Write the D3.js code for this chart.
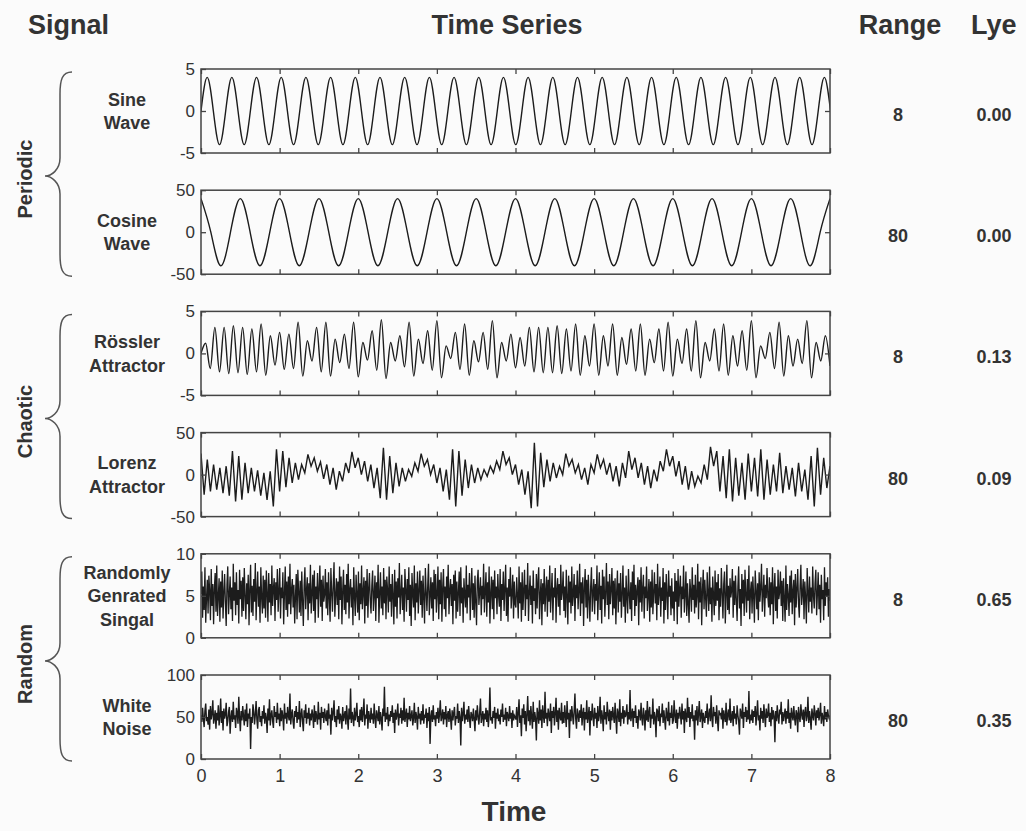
<!DOCTYPE html>
<html>
<head>
<meta charset="utf-8">
<script src="https://cdn.jsdelivr.net/npm/d3@7"></script>
<style>
body { margin: 0; background: #fbfbfb; }
</style>
</head>
<body>
<div id="viz"></div>
<script>
var svg_width = 1026;
var svg_height = 831;
var font = '"Liberation Sans", Arial, Helvetica, sans-serif';

var groups = ["Periodic", "Chaotic", "Random"];
var signal_names = [["Sine", "Wave"], ["Cosine", "Wave"], ["Rössler", "Attractor"],
  ["Lorenz", "Attractor"], ["Randomly", "Genrated", "Singal"], ["White", "Noise"]];
var y_domains = [[-5, 5], [-50, 50], [-5, 5], [-50, 50], [0, 10], [0, 100]];
var y_ticks = [[-5, 0, 5], [-50, 0, 50], [-5, 0, 5], [-50, 0, 50], [0, 5, 10], [0, 50, 100]];
var x_ticks = [0, 1, 2, 3, 4, 5, 6, 7, 8];
var range_values = ["8", "80", "8", "80", "8", "80"];
var lye_values = ["0.00", "0.00", "0.13", "0.09", "0.65", "0.35"];

// sine: samples every quarter period (peaks at +-4)
var sine_step = 0.0785;
var sine_values = [0,4,0,-4,0,4,0,-4,0,4,0,-4,0,4,0,-4,0,4,0,-4,0,4,0,-4,0,4,0,-4,0,4,0,-4,
  0,4,0,-4,0,4,0,-4,0,4,0,-4,0,4,0,-4,0,4,0,-4,0,4,0,-4,0,4,0,-4,0,4,0,-4,0,4,0,-4,0,4,0,-4,
  0,4,0,-4,0,4,0,-4,0,4,0,-4,0,4,0,-4,0,4,0,-4,0,4,0,-4,0,4,0,-4,0,4,0];

// cosine: samples every quarter period (peaks at +-40)
var cosine_step = 0.125;
var cosine_values = [40,0,-40,0,40,0,-40,0,40,0,-40,0,40,0,-40,0,40,0,-40,0,40,0,-40,0,
  40,0,-40,0,40,0,-40,0,40,0,-40,0,40,0,-40,0,40,0,-40,0,40,0,-40,0,40,0,-40,0,40,0,-40,0,
  40,0,-40,0,40,0,-40,0,40];

// rossler: peaks and troughs, in order, spread over 0..8
var rossler_values = [0,
  1.2,-1.8,3.1,-2.2,3.1,-2.4,3.3,-2.3,3.1,-2.5,2.9,-2.2,3.5,-2.6,2.1,-1.4,2.5,-1.9,2.3,-1.8,
  3.7,-2.7,1.5,-0.9,3.1,-2.2,3.7,-2.7,1.7,-1.1,2.3,-1.8,3.7,-2.8,1.3,-0.8,2.7,-2.0,4.0,-3.0,
  1.3,-0.9,2.1,-1.6,3.7,-2.7,1.7,-1.2,2.7,-2.0,3.9,-2.9,0.9,-0.6,2.5,-1.9,3.5,-2.6,1.5,-1.0,
  2.5,-1.9,3.9,-2.9,1.3,-0.9,2.3,-1.7,1.9,-1.5,3.1,-2.2,3.1,-2.3,3.1,-2.3,3.3,-2.4,2.9,-2.1,
  3.5,-2.6,2.1,-1.5,3.5,-2.6,2.1,-1.5,3.5,-2.6,1.9,-1.3,2.9,-2.1,3.5,-2.6,1.7,-1.1,2.9,-2.1,
  3.7,-2.7,1.7,-1.2,2.9,-2.1,3.9,-2.9,1.3,-0.9,2.9,-2.1,3.5,-2.6,2.1,-1.5,2.7,-2.0,3.9,-2.9,
  0.9,-0.6,2.5,-1.8,3.7,-2.7,2.1,-1.5,1.7,-1.2,3.9,-2.9,1.3,-0.9,2.1,-1.5];

// lorenz: highs and lows of the fast oscillation, in order, spread over 0..8
var lorenz_values = [
  25,-24,18,-20,12,-18,8,-22,10,-25,28,-32,22,-30,14,-22,8,-20,5,-25,
  2,-30,4,-38,30,-20,28,-15,20,-10,14,-6,12,2,24,10,20,4,15,-5,
  12,-12,8,-18,4,-8,14,2,27,8,20,0,16,-8,12,-16,8,-28,32,-30,
  22,-22,14,-14,8,-8,6,-2,14,4,25,10,18,0,12,-10,8,-20,6,-30,
  30,-38,28,-25,18,-16,12,-10,8,-6,6,-2,10,2,16,6,28,12,20,0,
  12,-12,6,-24,4,-40,38,-38,26,-15,18,-8,14,-4,10,0,25,10,18,2,
  12,-6,8,-12,12,2,24,8,18,0,14,-8,10,-14,14,-4,28,6,20,-4,
  14,-12,10,-16,6,-8,16,4,30,10,22,-2,16,-12,10,-18,4,-14,-2,-10,
  12,-6,33,10,28,-20,22,-28,30,-32,20,-25,14,-30,25,-20,20,-26,30,-30,
  18,-24,12,-20,26,-22,10,-18,8,-26,14,-20,6,-30,22,-38,32,-24,20,-16,
  10];

var random_values = [
  5.2,7.9,2.4,6.1,3.3,8.4,1.8,4.7,6.9,2.9,7.4,5.6,2.1,8.2,3.8,6.4,1.6,5.9,7.7,3.1,
  8.6,2.6,4.9,7.1,1.9,6.7,3.6,8.0,2.3,5.4,7.6,4.1,1.4,6.3,8.5,2.8,5.1,7.3,3.4,6.0,
  2.0,8.8,4.4,6.6,2.7,7.8,3.9,5.7,1.7,8.1,4.6,6.8,2.5,7.2,3.2,8.3,5.0,2.2,6.5,4.0,
  7.5,1.5,5.8,8.7,3.0,6.2,2.6,7.0,4.3,8.9,2.1,5.5,7.9,3.7,6.1,1.8,8.4,4.8,2.9,7.4,
  3.5,6.9,2.4,8.0,5.3,1.9,7.7,4.2,6.4,2.7,8.6,3.8,5.9,7.1,2.0,6.6,4.5,8.2,3.1,5.6,
  8.3,2.3,6.0,4.7,7.8,1.6,5.2,8.5,3.3,6.7,2.5,7.3,4.0,8.8,2.8,5.8,7.0,3.6,6.3,1.7,
  4.9,7.6,2.2,8.1,5.5,3.0,6.8,2.6,7.9,4.4,1.4,6.2,8.4,3.4,5.7,7.2,2.1,6.5,4.1,8.7,
  2.9,5.3,7.5,3.2,8.0,1.8,6.1,4.6,7.7,2.4,5.9,8.6,3.7,6.9,2.0,7.4,4.3,5.1,8.2,3.5,
  6.6,2.7,7.8,4.8,1.9,8.3,5.4,3.1,6.4,9.0,2.5,5.0,7.1,3.9,6.7,2.2,8.5,4.5,7.3,1.6,
  5.6,8.1,3.3,6.3,2.8,7.6,4.2,8.8,2.3,5.8,7.0,3.6,6.0,1.5,8.4,4.9,2.6,7.5,5.2,3.0,
  7.9,2.1,6.5,4.0,8.6,3.4,5.5,7.2,1.7,6.8,3.8,8.2,2.4,5.9,7.7,4.4,2.9,6.2,8.0,3.2,
  5.1,7.4,2.0,6.6,4.7,8.7,1.8,5.3,7.8,3.5,6.1,2.7,8.3,4.1,6.9,2.2,7.3,5.7,3.0,8.5,
  4.3,6.4,2.5,7.6,5.0,1.6,8.1,3.7,6.7,2.3,7.1,4.8,8.9,2.8,5.4,7.5,3.3,6.0,1.9,8.2,
  5.8,3.1,7.0,4.5,8.4,2.6,6.3,1.4,7.7,5.2,3.6,8.6,2.1,6.5,4.2,7.9,2.9,5.6,8.0,3.9,
  6.8,2.4,7.4,4.9,1.7,8.3,5.5,3.2,6.2,8.8,2.7,5.0,7.2,3.5,6.6,2.0,8.1,4.6,7.6,3.0,
  5.3,8.5,2.2,6.9,4.0,7.8,1.9,5.9,8.2,3.4,6.1,2.5,7.3,4.7,8.7,2.8,5.7,7.0,3.8,6.4,
  1.6,7.5,4.4,8.0,2.3,6.7,3.1,5.4,7.9,2.6,8.4,4.1,6.0,1.8,7.1,5.1,3.6,8.6,2.9,6.3,
  4.8,7.7,2.1,5.8,8.3,3.3,6.5,2.4,7.4,4.3,1.5,6.8,8.1,3.9,5.5,7.2,2.7,6.2,4.6,8.8,
  3.0,5.6,7.8,2.5,6.6,4.2,8.5,1.7,5.2,7.3,3.4,6.9,2.2,8.0,4.7,6.1,2.8,7.6,5.0,3.7,
  8.2,2.0,6.4,4.5,7.9,3.2,5.9,8.7,2.6,6.0,1.9,7.0,4.9,8.4,3.5,5.3,7.5,2.3,6.7,4.0,
  3.6,7.2,5.0,2.3,8.5,4.1,6.6,1.9,7.8,3.3,5.7,8.1,2.6,6.3,4.6,8.9,2.0,5.3,7.4,3.9,
  6.2,1.7,8.0,4.4,5.9,2.8,7.6,3.5,6.8,8.4,2.2,5.1,7.0,1.5,6.5,4.0,8.2,3.1,5.6,7.3,
  2.5,6.9,4.3,8.6,3.0,5.4,7.7,2.1,6.0,4.8,8.3,1.8,5.8,7.1,3.7,6.4,2.7,8.7,4.5,5.5,
  7.9,3.2,6.1,2.4,8.1,5.0,1.6,7.4,4.2,6.7,2.9,8.5,3.8,5.2,7.6,2.0,6.3,4.7,8.0,3.4,
  5.7,8.8,2.6,6.6,4.1,7.2,1.4,5.9,8.2,3.6,6.9,2.3,7.5,4.9,1.9,6.1,8.4,3.1,5.4,7.0,
  2.8,6.4,4.4,8.6,2.1,5.6,7.8,3.3,6.2,1.7,8.1,4.6,7.3,2.5,5.3,8.9,3.9,6.7,2.2,7.6,
  4.0,5.8,8.3,2.7,6.8,3.5,7.1,1.6,5.5,8.0,3.0,6.5,4.3,7.7,2.4,5.1,8.6,3.7,6.0,1.8,
  7.4,4.8,2.9,8.2,5.2,3.4,6.6,2.0,7.9,4.5,8.7,2.6,6.3,3.8,5.7,7.2,1.5,6.9,4.2,8.4,
  3.1,5.9,7.5,2.3,6.1,4.7,8.5,3.2,5.0,7.0,1.9,6.7,3.6,8.1,2.8,5.4,7.8,4.1,6.4,2.1,
  8.8,3.9,5.3,7.3,2.5,6.0,4.4,8.3,1.7,6.6,3.3,7.6,5.1,2.2,8.0,4.9,6.2,2.7,7.1,3.5,
  5.5,2.0,7.7,4.3,6.8,1.6,8.2,3.7,5.8,7.4,2.4,6.1,4.6,8.6,3.0,5.2,7.9,2.6,6.5,4.0,
  1.8,7.0,5.6,3.1,8.4,4.5,6.3,2.9,7.5,3.6,5.0,8.8,2.2,6.7,4.2,7.2,1.5,5.7,8.1,3.4,
  6.9,4.7,2.5,7.8,5.3,3.2,8.5,4.0,6.0,1.9,7.3,5.1,2.7,8.0,3.8,6.6,4.4,7.6,2.1,5.9,
  3.7,8.3,5.4,2.3,6.4,7.9,1.7,5.0,8.7,3.3,6.2,2.8,7.1,4.8,5.6,8.2,2.4,6.8,3.9,7.4,
  4.6,2.0,6.1,8.5,3.5,5.8,1.4,7.6,4.1,6.9,2.6,8.1,5.2,3.0,7.0,4.4,8.6,2.2,5.5,6.7,
  2.9,7.3,4.9,1.8,8.0,5.7,3.4,6.5,2.1,7.8,4.3,6.0,8.8,3.1,5.3,7.5,2.5,6.3,4.7,8.3,
  5.0,3.6,7.2,2.7,6.6,4.0,8.4,1.6,5.9,7.7,3.2,6.1,2.3,8.1,4.6,5.4,7.9,3.8,6.8,2.0,
  7.1,4.5,1.9,8.6,3.3,6.4,5.1,2.6,7.4,4.2,8.0,2.8,5.6,6.9,1.5,7.6,3.6,5.8,8.2,4.1,
  2.4,6.2,8.7,3.9,5.3,7.0,2.2,6.7,4.8,1.7,8.3,5.5,3.0,7.3,4.3,6.0,2.9,8.5,5.0,3.5,
  6.5,8.1,2.7,5.2,7.8,3.4,6.3,1.8,7.5,4.6,5.7,2.1,8.4,3.8,6.6,4.9,7.2,2.5,5.8,4.4];

var noise_values = [
  52,44,61,48,38,57,66,45,50,41,59,35,63,47,54,70,42,49,58,36,
  55,46,64,40,51,72,43,57,34,60,48,53,67,39,45,56,62,30,50,58,
  44,68,47,52,37,61,55,42,74,49,33,57,46,63,51,40,59,45,66,38,
  54,48,60,12,50,43,65,56,41,53,69,47,36,58,62,44,51,39,57,48,
  64,42,55,49,31,60,46,71,40,52,58,45,37,63,50,56,43,67,47,54,
  39,61,45,58,50,34,66,48,55,42,62,51,46,78,41,53,59,44,36,57,
  50,63,43,56,47,69,38,52,60,45,33,58,49,65,42,55,48,61,40,54,
  46,59,52,37,64,44,57,50,41,68,47,55,35,62,49,56,43,60,51,45,
  58,40,66,48,53,29,61,46,55,70,44,51,38,59,47,63,42,54,50,36,
  62,45,52,57,41,64,49,35,60,47,84,43,56,50,39,61,46,53,67,44,
  51,38,59,46,62,44,55,72,40,53,48,65,36,57,50,43,61,47,54,42,
  66,49,37,58,52,45,63,41,56,48,34,60,51,86,44,55,47,62,39,53,
  45,57,50,64,43,55,31,59,47,52,66,40,54,49,61,42,58,46,73,44,
  52,60,38,55,47,63,45,51,58,40,49,67,43,56,50,35,62,48,54,41,
  57,46,65,42,53,49,60,37,55,45,62,18,51,58,44,64,47,52,39,56,
  48,61,43,54,70,45,50,59,41,56,47,63,38,52,57,44,60,49,35,58,
  46,55,62,40,51,48,66,43,57,50,16,61,45,54,68,42,53,47,59,44,
  63,49,37,56,52,45,60,48,33,58,46,64,51,41,55,72,43,50,57,39,
  54,47,61,44,58,38,52,85,46,50,42,57,49,62,36,55,48,60,45,53,
  41,59,50,66,44,53,47,61,39,56,51,45,63,48,55,37,58,46,52,50,
  47,62,38,55,71,43,52,27,60,49,65,41,57,33,53,75,45,58,40,63,
  50,36,68,44,56,48,22,61,53,42,70,46,59,37,64,51,43,80,48,55,
  39,60,52,45,66,31,57,49,62,40,54,73,44,58,35,61,50,46,67,42,
  56,43,64,51,38,69,47,55,25,59,45,63,52,41,57,78,48,36,60,53,
  44,58,49,65,40,54,61,34,56,47,70,43,51,62,28,57,46,66,50,39,
  61,48,55,37,63,45,52,74,42,58,50,33,64,47,56,41,68,53,45,59,
  35,57,46,62,51,43,67,49,30,60,54,44,71,39,55,48,63,42,58,50,
  53,65,41,56,47,82,45,52,60,38,57,49,64,43,51,36,59,55,46,67,
  48,40,61,52,34,58,46,69,44,55,62,37,53,48,72,41,56,50,26,60,
  57,45,63,39,54,50,66,43,58,47,35,61,52,45,68,40,55,49,64,42,
  46,70,51,43,59,36,55,48,62,53,41,66,47,57,31,60,50,44,73,49,
  62,38,56,48,65,45,52,23,58,46,63,40,54,69,44,51,59,37,55,47,
  43,57,49,66,41,53,60,45,76,48,38,62,51,56,42,64,47,33,58,52,
  55,47,61,36,58,50,44,67,40,53,59,46,72,43,49,57,39,63,48,54,
  41,64,52,45,29,60,55,48,66,37,56,50,62,44,58,47,81,42,53,46,
  59,43,57,50,63,40,54,70,46,52,34,61,48,57,43,65,51,38,60,49,
  52,66,44,55,39,62,47,58,51,20,57,45,64,50,42,59,53,68,41,56,
  45,53,60,42,57,48,71,43,55,36,61,52,46,63,49,40,58,54,32,62,
  50,44,65,53,47,59,38,56,62,45,51,74,43,57,48,35,60,52,46,64,
  54,40,58,49,61,46,53,67,42,55,50,39,63,47,56,44,59,51,48,52];

var series = [
  {values: sine_values, step: sine_step, curve: d3.curveNatural, width: 1.4},
  {values: cosine_values, step: cosine_step, curve: d3.curveNatural, width: 1.4},
  {values: rossler_values, curve: d3.curveMonotoneX, width: 1.4},
  {values: lorenz_values, curve: d3.curveLinear, width: 1.4},
  {values: random_values, curve: d3.curveLinear, width: 1.3},
  {values: noise_values, curve: d3.curveLinear, width: 1.4}
];

var plot_left = 201, plot_right = 830;
var panel_top = 69, panel_step = 121.2, panel_height = 84;

var svg = d3.select('#viz')
  .append('svg')
  .attr('width', svg_width)
  .attr('height', svg_height)
  .style('background', '#fbfbfb')
  .style('font-family', font);

var x = d3.scaleLinear().domain([0, 8]).range([plot_left, plot_right]);
var plain = function(d) { return String(d); };   // hyphen minus like the original

function styleAxis(g, size) {
  g.select('.domain').remove();
  g.selectAll('line').attr('stroke', '#444').attr('stroke-width', 1.3);
  g.selectAll('text').attr('fill', '#333').attr('font-size', size).attr('font-family', font);
}

series.forEach(function(s, i) {
  var top = panel_top + i * panel_step;
  var bottom = top + panel_height;
  var y = d3.scaleLinear().domain(y_domains[i]).range([bottom, top]);
  var step = s.step || 8 / (s.values.length - 1);

  svg.append('clipPath').attr('id', 'clip' + i)
    .append('rect')
    .attr('x', plot_left).attr('y', top)
    .attr('width', plot_right - plot_left).attr('height', panel_height);

  var line = d3.line()
    .x(function(d, j) { return x(j * step); })
    .y(function(d) { return y(d); })
    .curve(s.curve);

  svg.append('path')
    .datum(s.values)
    .attr('d', line)
    .attr('clip-path', 'url(#clip' + i + ')')
    .attr('fill', 'none')
    .attr('stroke', '#1c1c1c')
    .attr('stroke-width', s.width);

  // frame
  svg.append('rect')
    .attr('x', plot_left).attr('y', top)
    .attr('width', plot_right - plot_left).attr('height', panel_height)
    .attr('fill', 'none').attr('stroke', '#444').attr('stroke-width', 1.5);

  svg.append('g')
    .attr('transform', 'translate(' + plot_left + ',0)')
    .call(d3.axisLeft(y).tickValues(y_ticks[i]).tickFormat(plain).tickSize(-5).tickPadding(6))
    .call(styleAxis, 17);

  svg.append('g')
    .attr('transform', 'translate(' + plot_right + ',0)')
    .call(d3.axisRight(y).tickValues([y_ticks[i][1]]).tickSize(-5).tickFormat(''))
    .call(styleAxis, 17);

  svg.append('g')
    .attr('transform', 'translate(0,' + top + ')')
    .call(d3.axisTop(x).tickValues(x_ticks).tickSize(-5).tickFormat(''))
    .call(styleAxis, 17);

  var xb = d3.axisBottom(x).tickValues(x_ticks).tickFormat(plain).tickSize(-5).tickPadding(10);
  if (i < series.length - 1) xb.tickFormat('');
  svg.append('g')
    .attr('transform', 'translate(0,' + bottom + ')')
    .call(xb)
    .call(styleAxis, 18);

  // signal name
  var mid = (top + bottom) / 2;
  var names = signal_names[i];
  svg.append('g').selectAll('text')
    .data(names)
    .enter()
    .append('text')
    .text(function(d) { return d; })
    .attr('x', 127)
    .attr('y', function(d, k) { return mid + 6.5 + (k - (names.length - 1) / 2) * 23.5; })
    .attr('text-anchor', 'middle')
    .attr('font-size', 18)
    .attr('font-weight', 'bold')
    .attr('fill', '#333');

  svg.append('text')
    .text(range_values[i])
    .attr('x', 898).attr('y', mid + 10)
    .attr('text-anchor', 'middle')
    .attr('font-size', 18).attr('font-weight', 'bold').attr('fill', '#333');

  svg.append('text')
    .text(lye_values[i])
    .attr('x', 994).attr('y', mid + 10)
    .attr('text-anchor', 'middle')
    .attr('font-size', 18).attr('font-weight', 'bold').attr('fill', '#333');
});

// group braces and labels
groups.forEach(function(name, gi) {
  var top = panel_top + 2 * gi * panel_step + 3;
  var bottom = panel_top + (2 * gi + 1) * panel_step + panel_height + 2;
  var mid = (top + bottom) / 2 + 2;
  var xr = 72, xv = 60, xt = 45;
  var d = 'M' + xr + ',' + top +
    ' C' + (xv + 2) + ',' + top + ' ' + xv + ',' + (top + 8) + ' ' + xv + ',' + (top + 22) +
    ' L' + xv + ',' + (mid - 18) +
    ' C' + xv + ',' + (mid - 6) + ' ' + (xt + 6) + ',' + mid + ' ' + xt + ',' + mid +
    ' C' + (xt + 6) + ',' + mid + ' ' + xv + ',' + (mid + 6) + ' ' + xv + ',' + (mid + 18) +
    ' L' + xv + ',' + (bottom - 22) +
    ' C' + xv + ',' + (bottom - 8) + ' ' + (xv + 2) + ',' + bottom + ' ' + xr + ',' + bottom;
  svg.append('path')
    .attr('d', d)
    .attr('fill', 'none')
    .attr('stroke', '#555')
    .attr('stroke-width', 1.5);

  svg.append('text')
    .text(name)
    .attr('transform', 'translate(32,' + (mid + 3) + ') rotate(-90)')
    .attr('text-anchor', 'middle')
    .attr('font-size', 20)
    .attr('font-weight', 'bold')
    .attr('fill', '#333');
});

// headers
var headers = [
  {text: 'Signal', x: 28, anchor: 'start'},
  {text: 'Time Series', x: 507, anchor: 'middle'},
  {text: 'Range', x: 900, anchor: 'middle'},
  {text: 'Lye', x: 971, anchor: 'start'}
];
svg.selectAll('text.header')
  .data(headers)
  .enter()
  .append('text')
  .attr('class', 'header')
  .text(function(d) { return d.text; })
  .attr('x', function(d) { return d.x; })
  .attr('y', 34)
  .attr('text-anchor', function(d) { return d.anchor; })
  .attr('font-size', 27)
  .attr('font-weight', 'bold')
  .attr('fill', '#333');

svg.append('text')
  .text('Time')
  .attr('x', 514).attr('y', 821)
  .attr('text-anchor', 'middle')
  .attr('font-size', 28)
  .attr('font-weight', 'bold')
  .attr('fill', '#333');
</script>
</body>
</html>
